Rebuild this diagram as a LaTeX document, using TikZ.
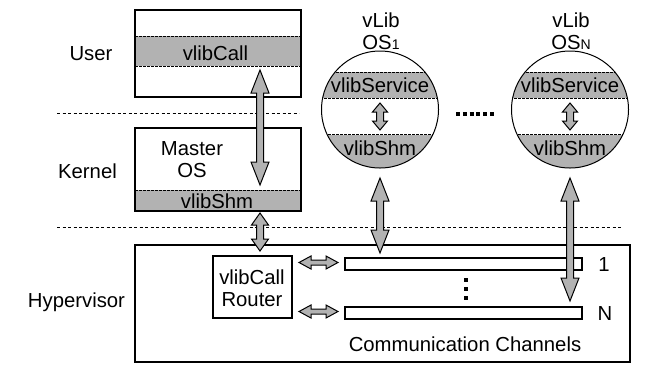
\documentclass[tikz,border=0pt]{standalone}
\usepackage{fontspec}
\setmainfont{Liberation Sans}
\usetikzlibrary{calc}

\tikzset{
	box/.style={draw, line width=1.1pt, inner sep=0pt},
	sep/.style={dash pattern=on 3pt off 2.5pt, line width=1pt},
	bandline/.style={dash pattern=on 2.5pt off 1.5pt, line width=0.8pt},
	lbl/.style={anchor=base, inner sep=0pt},
	fatfill/.style={draw, line width=1pt, fill=black!30, line join=miter},
}

% from, to, head length, head half width, shaft half width
\newcommand{\fatarrow}[5]{%
	\draw[fatfill] (#1)
		-- ($(#1)!#3pt!(#2)!#4pt!90:(#2)$) -- ($(#1)!#3pt!(#2)!#5pt!90:(#2)$)
		-- ($(#2)!#3pt!(#1)!#5pt!-90:(#1)$) -- ($(#2)!#3pt!(#1)!#4pt!-90:(#1)$)
		-- (#2)
		-- ($(#2)!#3pt!(#1)!#4pt!90:(#1)$) -- ($(#2)!#3pt!(#1)!#5pt!90:(#1)$)
		-- ($(#1)!#3pt!(#2)!#5pt!-90:(#2)$) -- ($(#1)!#3pt!(#2)!#4pt!-90:(#2)$)
		-- cycle;
}

\begin{document}
\begin{tikzpicture}[x=1pt, y=-1pt, font=\fontsize{20.3}{22}\selectfont]

	\useasboundingbox (0,0) rectangle (650,376);

	\draw[sep] (57,113) -- (299,113);
	\draw[sep] (57,227.5) -- (623,227.5);

	% user space
	\fill[black!30] (135,36) rectangle (301,66);
	\draw[bandline] (135,36) -- (301,36) (135,66) -- (301,66);
	\node[box, minimum width=166pt, minimum height=87pt] (user) at (218,53.5) {};
	\node[lbl] (vcall) at (215.5,60) {vlibCall};
	\node[lbl] (userlbl) at (91,60) {User};

	% kernel
	\fill[black!30] (135,190) rectangle (301,211);
	\draw[bandline] (135,190) -- (301,190);
	\node[box, minimum width=166pt, minimum height=83pt] (kernel) at (218,169.5) {};
	\node[inner sep=0pt, align=center] (master) at (192,160) {Master\\OS};
	\node[lbl] (kshm) at (217,208) {vlibShm};
	\node[lbl] (kernlbl) at (87.5,178) {Kernel};

	% guest OSes
	\foreach \cx/\nm/\sub in {380/os1/1, 570/osn/N} {
		\begin{scope}
			\clip (\cx,109.5) circle [radius=58.5pt];
			\fill[black!30] (\cx-60,72) rectangle (\cx+60,98);
			\fill[black!30] (\cx-60,134.5) rectangle (\cx+60,170);
			\draw[bandline] (\cx-60,72) -- (\cx+60,72) (\cx-60,98) -- (\cx+60,98)
				(\cx-60,134.5) -- (\cx+60,134.5);
		\end{scope}
		\node[draw, circle, line width=1pt, minimum size=117pt, inner sep=0pt] (\nm) at (\cx,109.5) {};
		\node[lbl] (\nm-svc) at (\cx,92.5) {vlibService};
		\node[lbl] (\nm-shm) at (\cx,155) {vlibShm};
		\node[inner sep=0pt, align=center] (\nm-lbl) at (\cx+1,31) {vLib\\OS{\fontsize{14}{14}\selectfont\sub}};
		\coordinate (\nm-a) at (\cx,103);
		\coordinate (\nm-b) at (\cx,130);
		\fatarrow{\nm-a}{\nm-b}{9}{7.5}{3.5}
	}
	\draw[line width=4pt, dash pattern=on 4pt off 2.8pt] (456,113.7) -- (494,113.7);

	% hypervisor
	\node[box, minimum width=495pt, minimum height=117pt] (hyper) at (382.5,303.5) {};
	\node[lbl] (hyperlbl) at (76.5,307) {Hypervisor};
	\node[box, minimum width=79pt, minimum height=62pt] (router) at (252.5,287) {};
	\node[inner sep=0pt, align=center] (routerlbl) at (252,288) {vlibCall\\Router};
	\node[box, minimum width=237pt, minimum height=12pt] (ch1) at (463.5,264) {};
	\node[box, minimum width=237pt, minimum height=12pt] (chn) at (463.5,313) {};
	\node[lbl] (ch1lbl) at (604,271.5) {1};
	\node[lbl] (chnlbl) at (605,320) {N};
	\node[lbl] (commlbl) at (465,351.5) {Communication Channels};
	\draw[line width=4pt, dash pattern=on 4pt off 5pt] (466,278) -- (466,300);

	% arrows
	\coordinate (ua) at (260,70);
	\coordinate (ub) at (260,185);
	\coordinate (ka) at (260,213);
	\coordinate (kb) at (260,251);
	\coordinate (o1a) at (380,178);
	\coordinate (o1b) at (380,253);
	\coordinate (ona) at (570,178);
	\coordinate (onb) at (570,301);
	\coordinate (r1a) at (299,262.5);
	\coordinate (r1b) at (338,262.5);
	\coordinate (rna) at (299,311.5);
	\coordinate (rnb) at (338,311.5);

	\fatarrow{ua}{ub}{23}{9}{3.5}
	\fatarrow{ka}{kb}{12}{8.5}{3.5}
	\fatarrow{o1a}{o1b}{23}{9}{3.5}
	\fatarrow{ona}{onb}{23}{9}{3.5}
	\fatarrow{r1a}{r1b}{12}{6.5}{2.5}
	\fatarrow{rna}{rnb}{12}{6.5}{2.5}
\end{tikzpicture}
\end{document}
